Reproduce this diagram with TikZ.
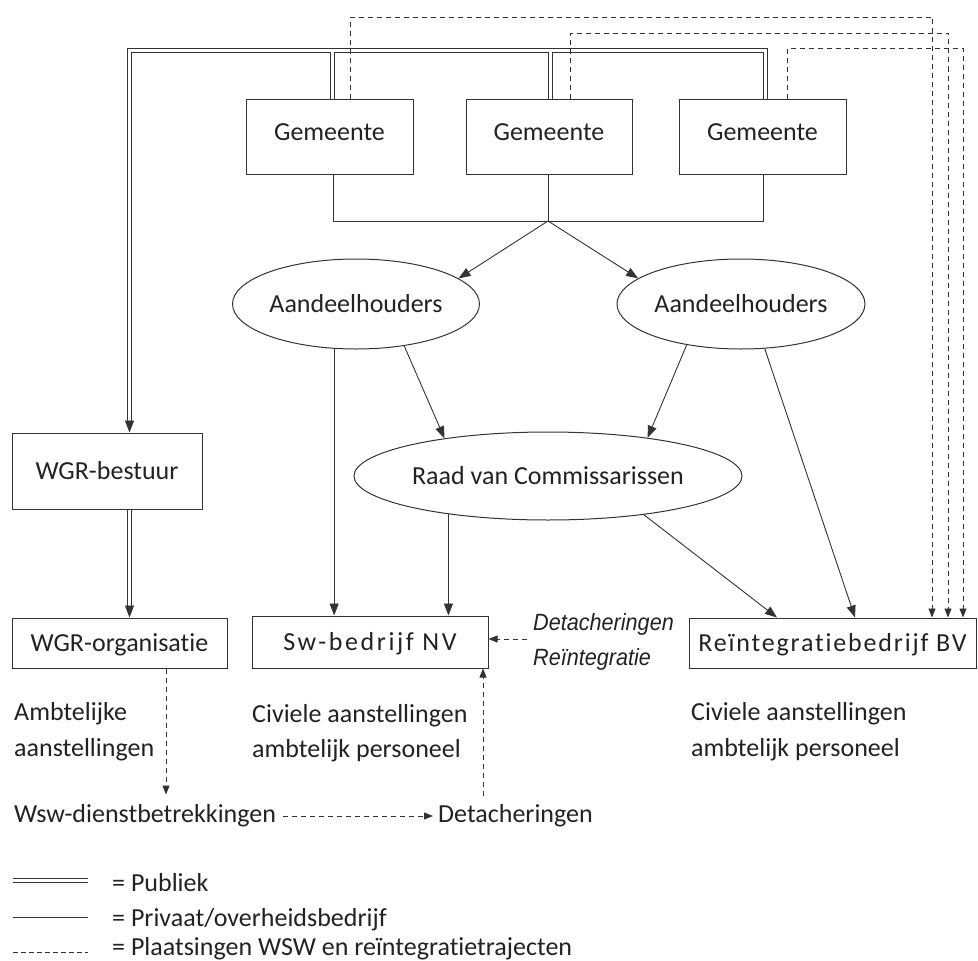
\documentclass[tikz,border=0pt]{standalone}
\usepackage{fontspec}
\setmainfont[Ligatures=NoCommon]{Carlito}
\newfontfamily\swspaced[LetterSpace=10,Ligatures=NoCommon]{Carlito}
\newfontfamily\rbspaced[LetterSpace=7,Ligatures=NoCommon]{Carlito}
\newfontfamily\itlabel[FakeStretch=0.92]{Liberation Sans}
\usetikzlibrary{arrows.meta,calc,shapes.geometric}
\definecolor{ink}{HTML}{333333}
\definecolor{txt}{HTML}{222222}
\newcommand\liftT[1]{\raisebox{5pt}[\height][\depth]{#1}}
\begin{document}
\begin{tikzpicture}[x=1pt,y=-1pt,
  mainfont/.style={font=\fontsize{26}{30}\selectfont, text=txt},
  boxnode/.style={draw=ink, line width=1pt, rectangle, inner sep=0pt,
    text height=17pt, text depth=0pt, mainfont},
  ellnode/.style={draw=ink, line width=1pt, ellipse, inner sep=0pt,
    text height=17pt, text depth=0pt, mainfont},
  pub/.style={draw=ink, line width=1pt, double=white, double distance=3pt},
  conn/.style={draw=ink, line width=0.9pt},
  arr/.style={conn, -{Triangle[length=12pt,width=9pt]}},
  dsh/.style={draw=ink, line width=0.9pt, dash pattern=on 5pt off 4pt},
  darr/.style={dsh, -{Triangle[length=9pt,width=7pt]}},
  txtnode/.style={inner sep=0pt, anchor=base west, mainfont},
  itnode/.style={inner sep=0pt, anchor=base west, text=txt,
    font=\itlabel\itshape\fontsize{23.5}{27}\selectfont}
]
\useasboundingbox (0,0) rectangle (978,961);

% boxes
\node[boxnode, minimum width=167pt, minimum height=75pt] (g1) at (329.5,136.5) {\liftT{Gemeente}};
\node[boxnode, minimum width=166pt, minimum height=75pt] (g2) at (549,136.5) {\liftT{Gemeente}};
\node[boxnode, minimum width=167pt, minimum height=75pt] (g3) at (762.5,136.5) {\liftT{Gemeente}};
\node[boxnode, minimum width=190pt, minimum height=76pt] (wgrb) at (107,471) {WGR-bestuur};
\node[boxnode, minimum width=215pt, minimum height=50pt] (wgro) at (119.5,643) {WGR-organisatie};
\node[boxnode, minimum width=236pt, minimum height=52pt] (sw) at (370,642) {\swspaced Sw-bedrijf NV};
\node[boxnode, minimum width=287pt, minimum height=50pt] (rb) at (832.5,643) {\rbspaced Reïntegratiebedrijf BV};

% ellipses
\node[ellnode, minimum width=247pt, minimum height=90pt] (a1) at (356,304) {\makebox[0pt]{Aandeelhouders}};
\node[ellnode, minimum width=248pt, minimum height=90pt] (a2) at (741,304) {\makebox[0pt]{Aandeelhouders}};
\node[ellnode, minimum width=388pt, minimum height=88pt] (raad) at (548,476) {\makebox[0pt]{Raad van Commissarissen}};

% public (double) lines
\coordinate (pl) at (129.5,50);
\coordinate (d1) at ($(g1.north)+(3,0)$);
\coordinate (d2) at ($(g2.north)+(1.5,0)$);
\coordinate (d3) at ($(g3.north)+(3,0)$);
\coordinate (pe1) at ($(wgrb.north)+(22.5,-12)$);
\coordinate (pe2) at ($(wgro.north)+(10,-12)$);
\draw[pub] (d1) -- (d1|-pl) (d2) -- (d2|-pl) (d3) |- (pl) -- (pe1);
\draw[arr] (pe1) -- (pe1|-wgrb.north);
\draw[pub] (pe2|-wgrb.south) -- (pe2);
\draw[arr] (pe2) -- (pe2|-wgro.north);

% junction under Gemeente
\coordinate (j) at (548,221);
\coordinate (b1) at ($(g1.south)+(3.5,0)$);
\coordinate (b3) at ($(g3.south)+(0.5,0)$);
\draw[conn] (b1) -- (b1|-j) -- (b3|-j) -- (b3);
\draw[conn] (j|-g2.south) -- (j);
\draw[arr] (j) -- (a1.14);
\draw[arr] (j) -- (a2.166);

% private lines
\draw[arr] (a1.-116.4) -- (a1.-116.4|-sw.north);
\draw[arr] (a1.-41) -- (raad.160);
\draw[arr] (a2.-143) -- (raad.21);
\draw[arr] (a2.-62) -- ($(rb.north)+(22.5,0)$);
\draw[arr] (raad.-159.6) -- (raad.-159.6|-sw.north);
\draw[arr] (raad.-22.3) -- ($(rb.north)+(-55.5,0)$);

% dashed placements from Gemeente
\coordinate (e1) at ($(g1.north)+(20.5,0)$);
\coordinate (e2) at ($(g2.north)+(21,0)$);
\coordinate (e3) at ($(g3.north)+(24.5,0)$);
\coordinate (t1) at (932,17);
\coordinate (t2) at (948,33);
\coordinate (t3) at (963,48);
\draw[darr] (e1) |- (t1) -- (t1|-rb.north);
\draw[darr] (e2) |- (t2) -- (t2|-rb.north);
\draw[darr] (e3) |- (t3) -- (t3|-rb.north);

% texts
\node[txtnode] (am1) at (14,720) {Ambtelijke};
\node[txtnode] (am2) at (14,756) {aanstellingen};
\node[txtnode] (cv1) at (252,722) {Civiele aanstellingen};
\node[txtnode] (cv2) at (252,757) {ambtelijk personeel};
\node[txtnode] (cv3) at (691,720) {Civiele aanstellingen};
\node[txtnode] (cv4) at (691,756) {ambtelijk personeel};
\node[txtnode] (wsw) at (14,822) {Wsw-dienstbetrekkingen};
\node[txtnode] (det) at (438,822) {Detacheringen};
\node[itnode] (dl1) at (533,630) {Detacheringen};
\node[itnode] (dl2) at (533,665) {Reïntegratie};

% dashed flows bottom
\coordinate (ds) at (527,639);
\draw[darr] (ds) -- (ds-|sw.east);
\coordinate (k1) at ($(wgro.south)+(46.5,126)$);
\draw[darr] (k1|-wgro.south) -- (k1);
\coordinate (k2) at (483,796);
\draw[darr] (k2) -- (k2|-sw.south);
\draw[darr] ($(wsw.base east)+(7,-6)$) -- ($(det.base west)+(-5,-6)$);

% legend
\draw[pub] (13,880.5) -- (88,880.5);
\draw[conn] (13,917) -- (88,917);
\draw[dsh, dash pattern=on 4.5pt off 3.5pt] (13,952) -- (88,952);
\node[txtnode] (l1) at (112,891) {= Publiek};
\node[txtnode] (l2) at (112,926) {= Privaat/overheidsbedrijf};
\node[txtnode] (l3) at (112,955) {= Plaatsingen WSW en reïntegratietrajecten};
\end{tikzpicture}
\end{document}
